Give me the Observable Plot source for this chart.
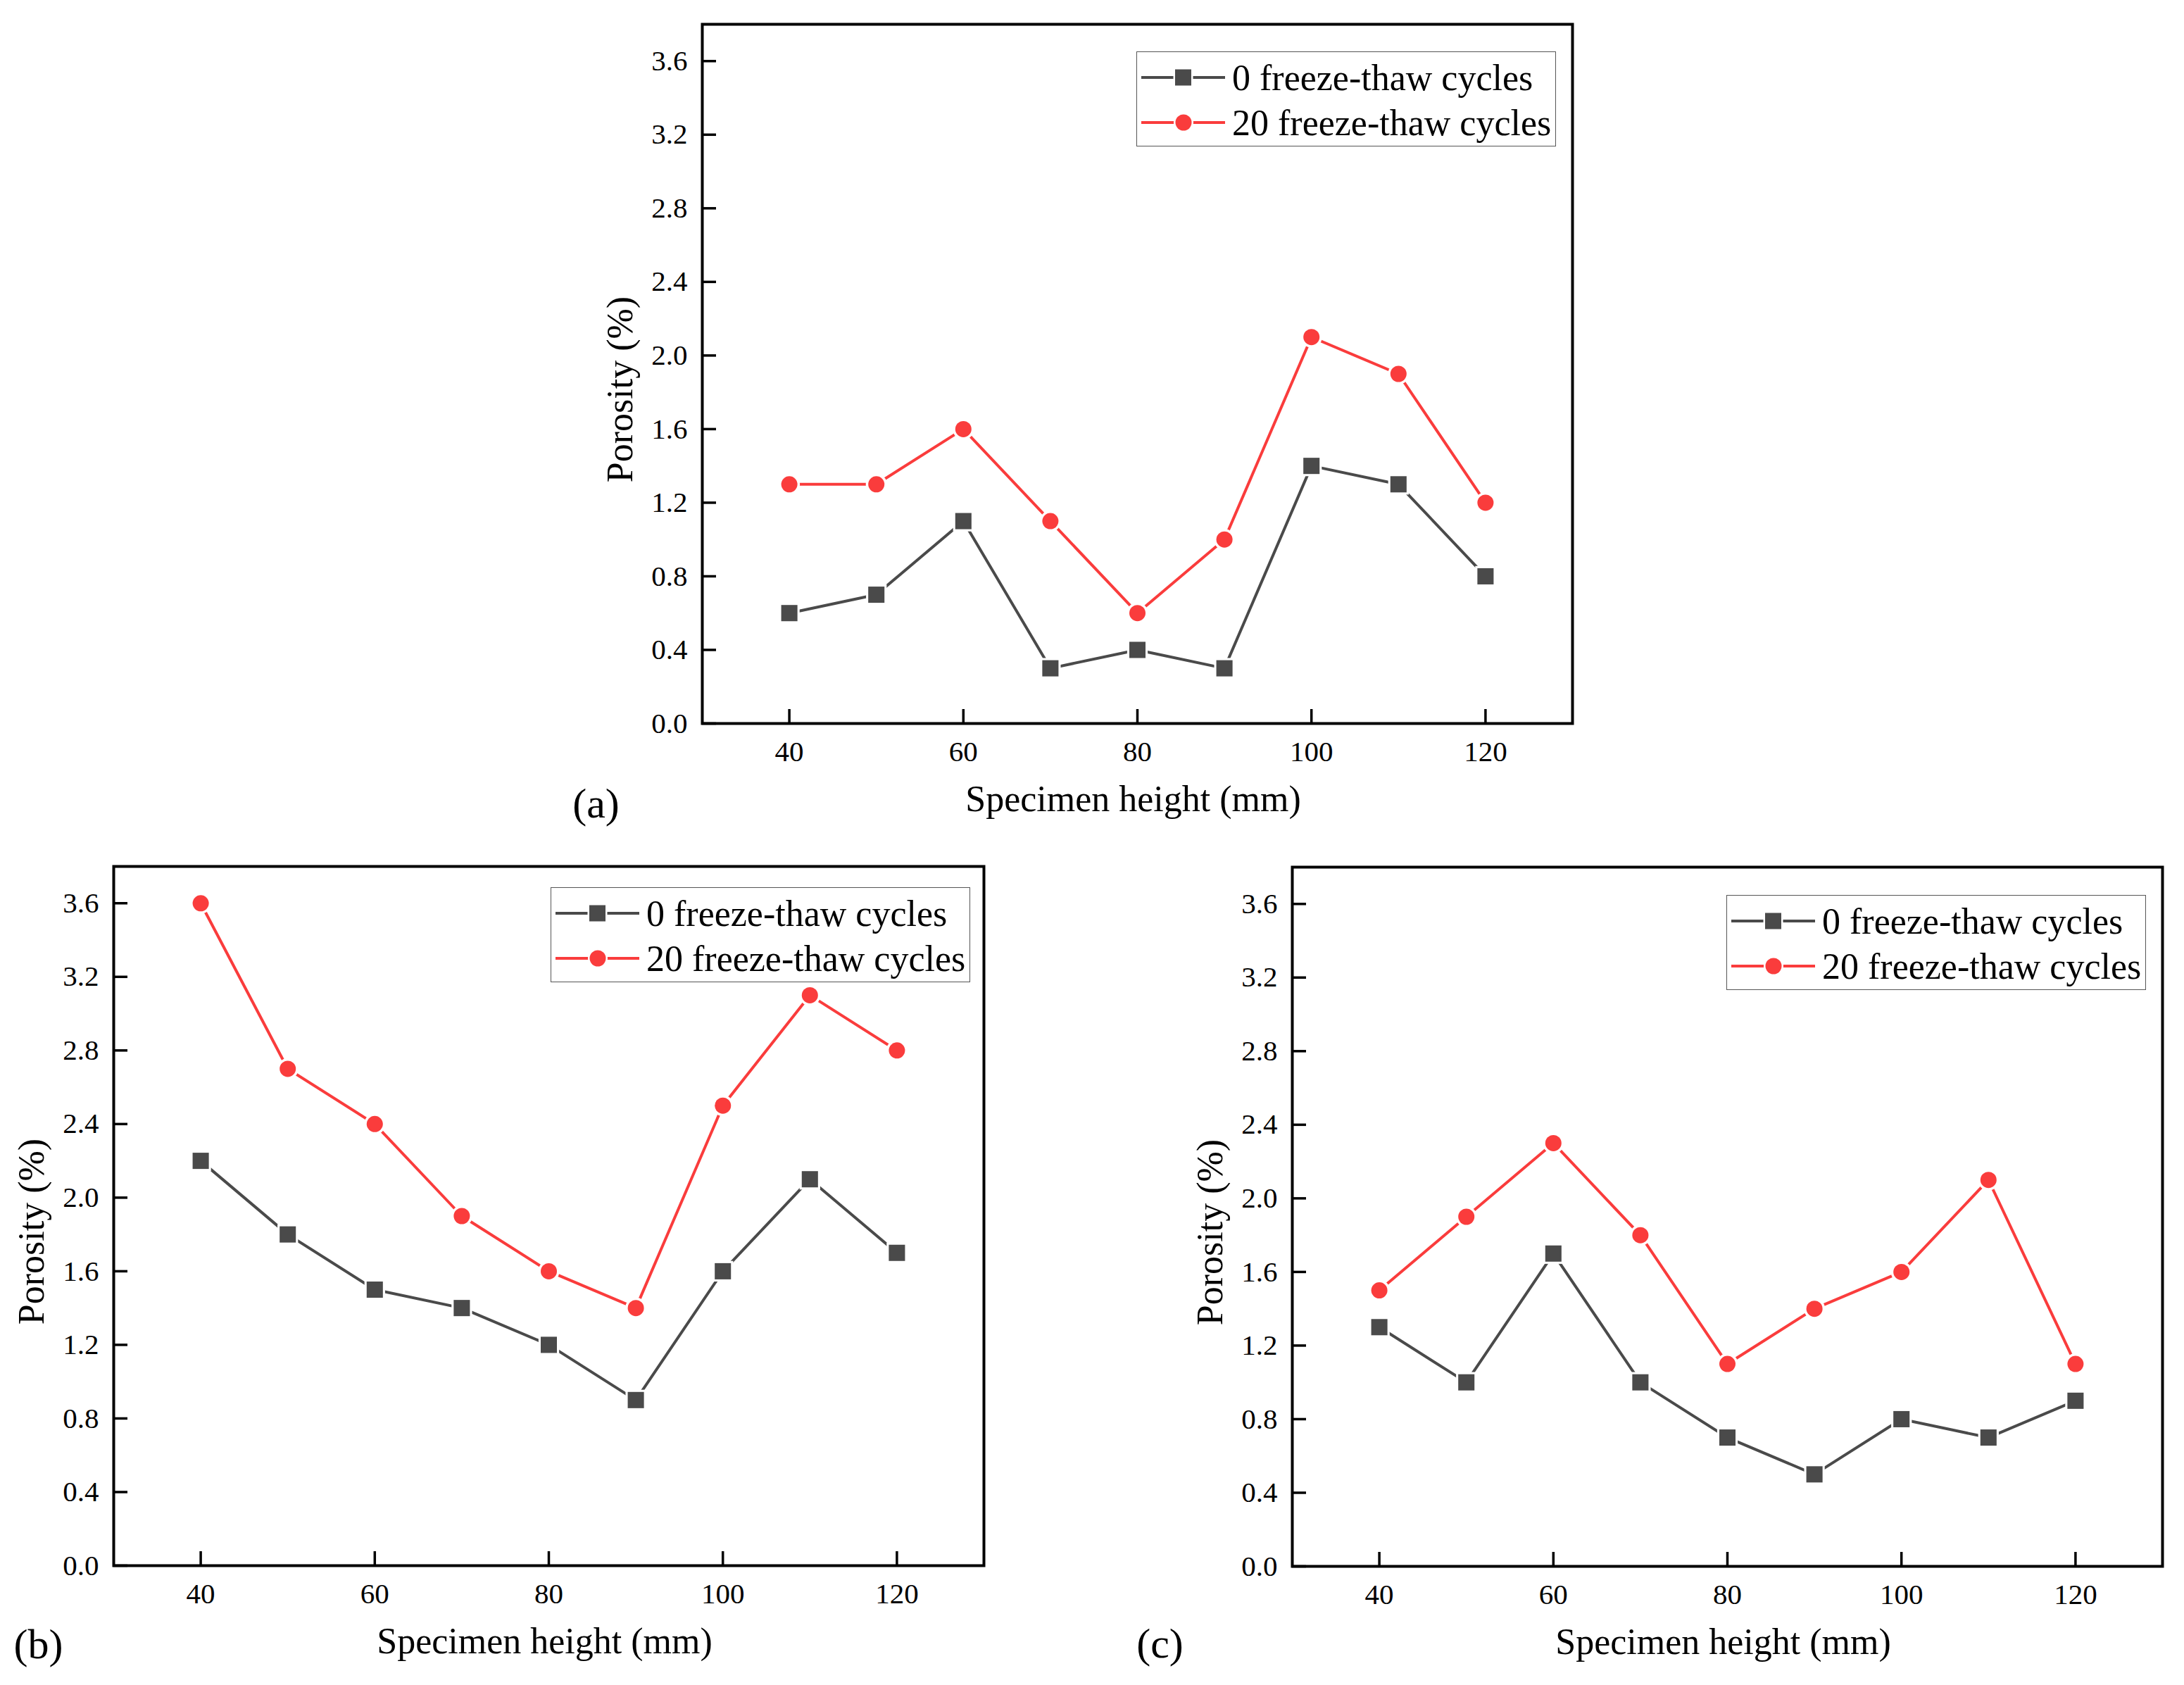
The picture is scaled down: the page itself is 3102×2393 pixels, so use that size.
<!DOCTYPE html>
<html>
<head>
<meta charset="utf-8">
<script src="https://cdn.jsdelivr.net/npm/d3@7"></script>
<script src="https://cdn.jsdelivr.net/npm/@observablehq/plot@0.6"></script>
<style>
  body { margin: 0; background: #fff; }
  #fig { position: relative; width: 3102px; height: 2393px; background: #fff;
         font-family: "Liberation Serif", "Times New Roman", serif; }
  .panel { position: absolute; }
  .legend { position: absolute; box-sizing: border-box; width: 596px; height: 135px;
            border: 1.5px solid #555; background: #fff; }
  .legend .row { position: absolute; left: 0; height: 60px; display: flex; align-items: center;
                 font-size: 52px; color: #000; white-space: nowrap; }
  .legend svg { flex: none; width: 135px; height: 40px; }
</style>
</head>
<body>
<div id="fig"></div>
<script>
// specimen heights (mm)
const heights = [40, 50, 60, 70, 80, 90, 100, 110, 120]

// porosity (%)
const aZero   = [0.6, 0.7, 1.1, 0.3, 0.4, 0.3, 1.4, 1.3, 0.8]
const aTwenty = [1.3, 1.3, 1.6, 1.1, 0.6, 1.0, 2.1, 1.9, 1.2]
const bZero   = [2.2, 1.8, 1.5, 1.4, 1.2, 0.9, 1.6, 2.1, 1.7]
const bTwenty = [3.6, 2.7, 2.4, 1.9, 1.6, 1.4, 2.5, 3.1, 2.8]
const cZero   = [1.3, 1.0, 1.7, 1.0, 0.7, 0.5, 0.8, 0.7, 0.9]
const cTwenty = [1.5, 1.9, 2.3, 1.8, 1.1, 1.4, 1.6, 2.1, 1.1]

const seriesNames = ["0 freeze-thaw cycles", "20 freeze-thaw cycles"]
const xTicks = [40, 60, 80, 100, 120]
const yTicks = [0, 0.4, 0.8, 1.2, 1.6, 2.0, 2.4, 2.8, 3.2, 3.6]
const xLabel = "Specimen height (mm)"
const yLabel = "Porosity (%)"

const gray = "#4a4a4a"
const red = "#fa3c3c"
const font = "'Liberation Serif', 'Times New Roman', serif"

const fig = document.getElementById("fig")

function seriesMarks(rows, color, symbol, r) {
  return [
    Plot.line(rows, {x: "h", y: "p", stroke: color, strokeWidth: 4}),
    // white halo gives the small gap between line and marker
    Plot.dot(rows, {x: "h", y: "p", symbol, r: r + 3.5, fill: "white"}),
    Plot.dot(rows, {x: "h", y: "p", symbol, r, fill: color})
  ]
}

function drawPanel(zero, twenty, o) {
  const zeroRows = heights.map((h, i) => ({h, p: zero[i]}))
  const twentyRows = heights.map((h, i) => ({h, p: twenty[i]}))
  const innerW = 1236, innerH = 993, mr = 24, mb = 160

  let chart = Plot.plot({
    width: o.ml + innerW + mr,
    height: o.mt + innerH + mb,
    marginLeft: o.ml, marginTop: o.mt, marginRight: mr, marginBottom: mb,
    style: {fontFamily: font, color: "#000", background: "transparent", overflow: "visible", maxWidth: "none"},
    x: {domain: [30, 130]},
    y: {domain: [0, 3.8]},
    marks: [
      Plot.axisX(xTicks, {tickSize: 20, dy: -20, text: null, label: null, strokeWidth: 3.5}),
      Plot.axisX(xTicks, {tickSize: 0, tickPadding: 24, fontSize: 41, label: null}),
      Plot.axisY(yTicks, {tickSize: 20, dx: 20, text: null, label: null, strokeWidth: 3.5}),
      Plot.axisY(yTicks, {tickSize: 0, tickPadding: 21, fontSize: 41, label: null, tickFormat: d => d.toFixed(1)}),
      ...seriesMarks(zeroRows, gray, "square", 13),
      ...seriesMarks(twentyRows, red, "circle", 11.5),
      Plot.frame({stroke: "#000", strokeWidth: 4}),
      Plot.text([yLabel], {text: d => d, frameAnchor: "left", textAnchor: "middle", dx: -116, dy: 22,
        rotate: -90, lineAnchor: "middle", fontSize: 52}),
      Plot.text([xLabel], {text: d => d, frameAnchor: "bottom", textAnchor: "middle", dx: -6, dy: 108,
        lineAnchor: "middle", fontSize: 52}),
      Plot.text([o.letter], {text: d => d, frameAnchor: "bottom-left", textAnchor: "middle", dx: o.ldx, dy: o.ldy,
        lineAnchor: "middle", fontSize: 60})
    ]
  })

  const div = document.createElement("div")
  div.className = "panel"
  div.style.left = o.left + "px"
  div.style.top = o.top + "px"
  div.append(chart)
  fig.append(div)

  // legend box inside the frame
  const lg = document.createElement("div")
  lg.className = "legend"
  lg.style.left = o.legLeft + "px"
  lg.style.top = o.legTop + "px"
  const swatch = [
    `<line x1="6" x2="125" y1="20" y2="20" stroke="${gray}" stroke-width="4"/>
     <rect x="54" y="8.5" width="23" height="23" fill="${gray}" stroke="white" stroke-width="5" paint-order="stroke"/>`,
    `<line x1="6" x2="125" y1="20" y2="20" stroke="${red}" stroke-width="4"/>
     <circle cx="66" cy="20" r="11.5" fill="${red}" stroke="white" stroke-width="5" paint-order="stroke"/>`
  ]
  seriesNames.forEach((name, i) => {
    const row = document.createElement("div")
    row.className = "row"
    row.style.top = (i === 0 ? 6 : 70) + "px"
    row.innerHTML = `<svg viewBox="0 0 135 40">${swatch[i]}</svg><span>${name}</span>`
    lg.append(row)
  })
  fig.append(lg)
}

drawPanel(aZero, aTwenty, {left: 797, top: 0, ml: 200, mt: 34, letter: "(a)", ldx: -151, ldy: 114,
  legLeft: 1614, legTop: 73})
drawPanel(bZero, bTwenty, {left: 1, top: 1200, ml: 160, mt: 30, letter: "(b)", ldx: -107, ldy: 112,
  legLeft: 782, legTop: 1260})
drawPanel(cZero, cTwenty, {left: 1595, top: 1200, ml: 240, mt: 31, letter: "(c)", ldx: -188, ldy: 110,
  legLeft: 2452, legTop: 1271})
</script>
</body>
</html>
